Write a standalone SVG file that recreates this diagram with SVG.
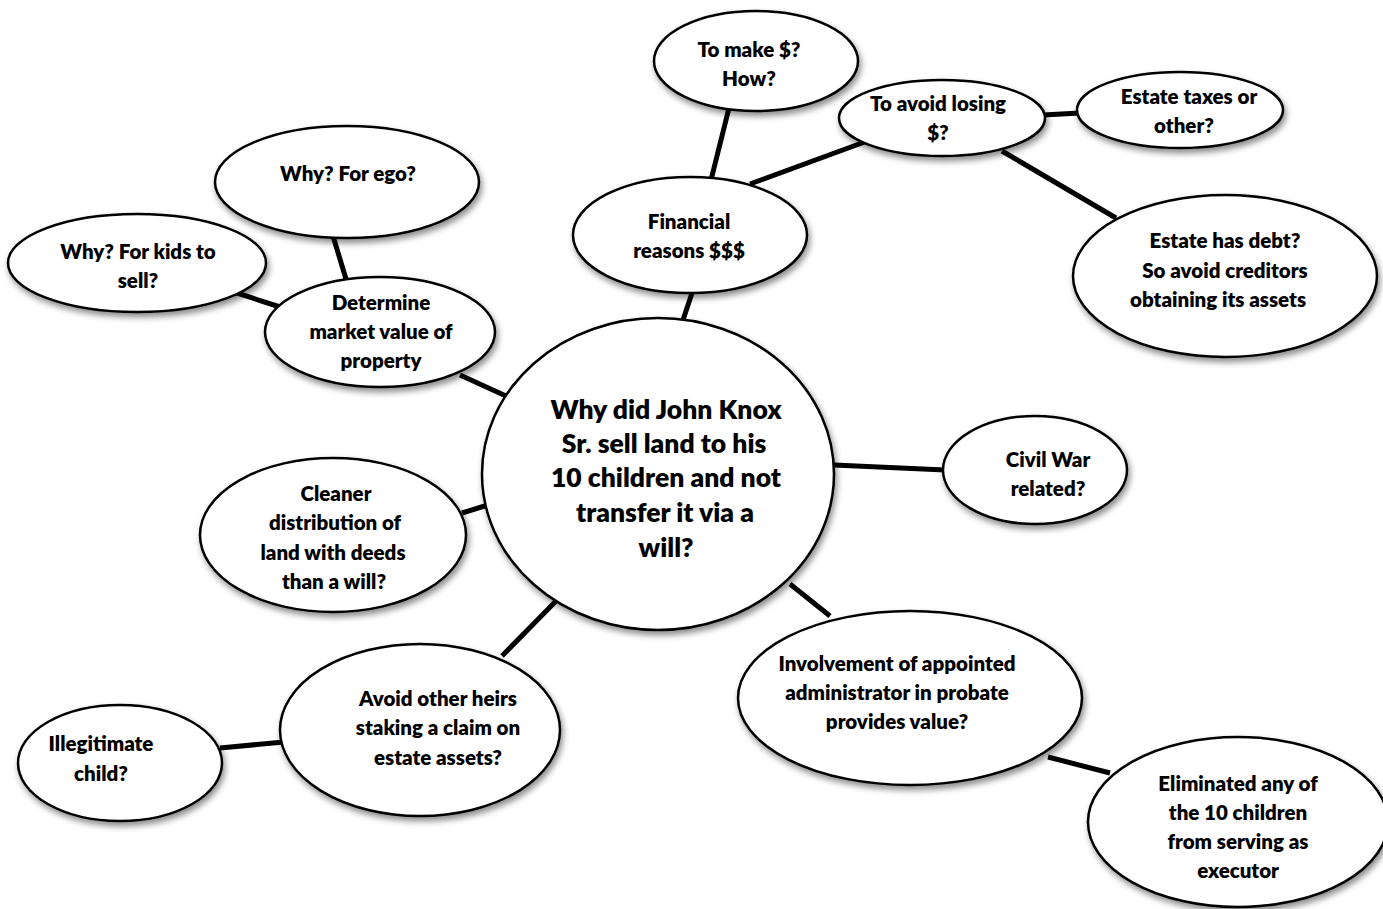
<svg xmlns="http://www.w3.org/2000/svg" width="1383" height="909" viewBox="0 0 1383 909">
<defs>
<filter id="sh" x="-10%" y="-10%" width="125%" height="135%">
<feDropShadow dx="2" dy="4" stdDeviation="3" flood-color="#000" flood-opacity="0.45"/>
</filter>
<style>
.n ellipse{fill:#fff;stroke:#000;stroke-width:2.5;filter:url(#sh)}
.n text{font-family:Lato,"Open Sans","Liberation Sans",sans-serif;font-weight:800;font-size:20.5px;fill:#000;text-anchor:middle}
.c line{stroke:#000;stroke-width:5;stroke-linecap:butt}
</style>
</defs>
<rect width="1383" height="909" fill="#fff"/>
<g class="c" id="connectors">
<line x1="683" y1="320" x2="693" y2="290"/>
<line x1="711" y1="180" x2="729" y2="108"/>
<line x1="750" y1="184" x2="870" y2="140"/>
<line x1="1043" y1="115" x2="1080" y2="113"/>
<line x1="1002" y1="151" x2="1116" y2="218"/>
<line x1="506" y1="396" x2="460" y2="375"/>
<line x1="333" y1="236" x2="346" y2="279"/>
<line x1="234" y1="292" x2="280" y2="307"/>
<line x1="834" y1="465" x2="945" y2="470"/>
<line x1="488" y1="505" x2="462" y2="513"/>
<line x1="557" y1="600" x2="502" y2="656"/>
<line x1="220" y1="748" x2="284" y2="742"/>
<line x1="790" y1="584" x2="830" y2="616"/>
<line x1="1048" y1="757" x2="1110" y2="773"/>
</g>
<g class="n" id="center">
<ellipse cx="658" cy="474" rx="176" ry="156"/>
<text style="font-size:26.5px"><tspan x="666" y="419">Why did John Knox</tspan><tspan x="664" y="453">Sr. sell land to his</tspan><tspan x="666" y="487">10 children and not</tspan><tspan x="665" y="522">transfer it via a</tspan><tspan x="666" y="557">will?</tspan></text>
</g>
<g class="n" id="financial">
<ellipse cx="690" cy="235" rx="117" ry="58"/>
<text><tspan x="689" y="229">Financial</tspan><tspan x="689" y="258">reasons $$$</tspan></text>
</g>
<g class="n" id="make">
<ellipse cx="756" cy="61" rx="102" ry="50"/>
<text><tspan x="749" y="57">To make $?</tspan><tspan x="749" y="86">How?</tspan></text>
</g>
<g class="n" id="avoid-losing">
<ellipse cx="942" cy="118" rx="103" ry="38"/>
<text><tspan x="938" y="111">To avoid losing</tspan><tspan x="938" y="140">$?</tspan></text>
</g>
<g class="n" id="estate-taxes">
<ellipse cx="1180" cy="110" rx="103" ry="38"/>
<text><tspan x="1189" y="104">Estate taxes or</tspan><tspan x="1184" y="133">other?</tspan></text>
</g>
<g class="n" id="estate-debt">
<ellipse cx="1225" cy="276" rx="152" ry="81"/>
<text><tspan x="1225" y="248">Estate has debt?</tspan><tspan x="1225" y="278">So avoid creditors</tspan><tspan x="1218" y="307">obtaining its assets</tspan></text>
</g>
<g class="n" id="ego">
<ellipse cx="347" cy="182" rx="132" ry="56"/>
<text><tspan x="348" y="181">Why? For ego?</tspan></text>
</g>
<g class="n" id="kids">
<ellipse cx="137" cy="263" rx="129" ry="49"/>
<text><tspan x="138" y="259">Why? For kids to</tspan><tspan x="138" y="288">sell?</tspan></text>
</g>
<g class="n" id="determine">
<ellipse cx="380" cy="332" rx="115" ry="55"/>
<text><tspan x="381" y="310">Determine</tspan><tspan x="381" y="339">market value of</tspan><tspan x="381" y="368">property</tspan></text>
</g>
<g class="n" id="civil-war">
<ellipse cx="1035" cy="470" rx="92" ry="54"/>
<text><tspan x="1048" y="467">Civil War</tspan><tspan x="1048" y="496">related?</tspan></text>
</g>
<g class="n" id="cleaner">
<ellipse cx="333" cy="535" rx="133" ry="77"/>
<text><tspan x="336" y="501">Cleaner</tspan><tspan x="335" y="530">distribution of</tspan><tspan x="333" y="560">land with deeds</tspan><tspan x="334" y="589">than a will?</tspan></text>
</g>
<g class="n" id="heirs">
<ellipse cx="420" cy="730" rx="140" ry="86"/>
<text><tspan x="438" y="706">Avoid other heirs</tspan><tspan x="438" y="735">staking a claim on</tspan><tspan x="438" y="765">estate assets?</tspan></text>
</g>
<g class="n" id="illegitimate">
<ellipse cx="120" cy="763" rx="102" ry="58"/>
<text><tspan x="101" y="751">Illegitimate</tspan><tspan x="101" y="781">child?</tspan></text>
</g>
<g class="n" id="involvement">
<ellipse cx="910" cy="698" rx="172" ry="87"/>
<text><tspan x="897" y="671">Involvement of appointed</tspan><tspan x="897" y="700">administrator in probate</tspan><tspan x="897" y="729">provides value?</tspan></text>
</g>
<g class="n" id="eliminated">
<ellipse cx="1238" cy="822" rx="150" ry="85"/>
<text><tspan x="1238" y="791">Eliminated any of</tspan><tspan x="1238" y="820">the 10 children</tspan><tspan x="1238" y="849">from serving as</tspan><tspan x="1238" y="878">executor</tspan></text>
</g>
</svg>
